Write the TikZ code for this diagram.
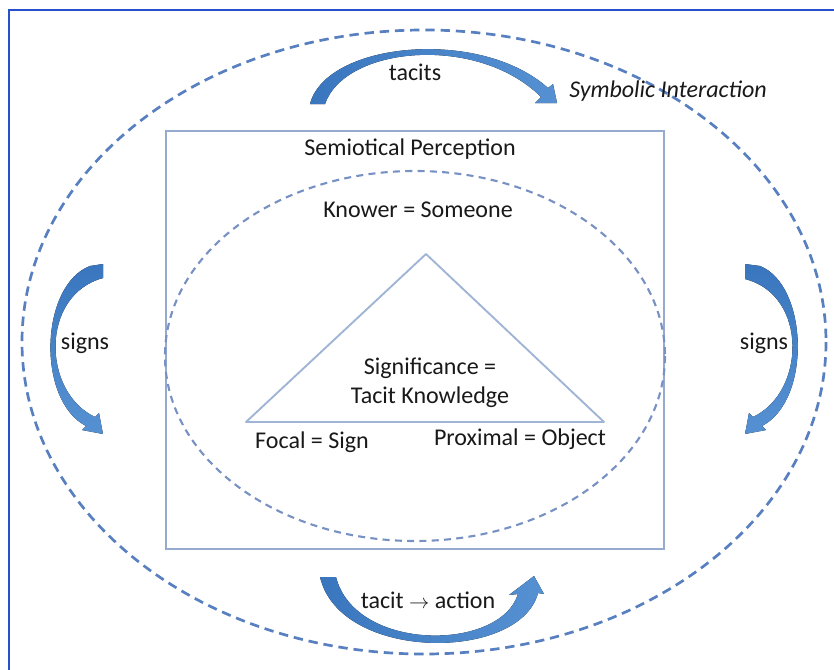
\documentclass[tikz,border=0pt]{standalone}
\usepackage{fontspec}
\setmainfont{Carlito}
\definecolor{framec}{RGB}{40,80,205}
\definecolor{outerd}{RGB}{88,128,192}
\definecolor{innerd}{RGB}{120,145,195}
\definecolor{boxc}{RGB}{150,170,208}
\definecolor{tric}{RGB}{160,180,214}
\definecolor{arrc}{RGB}{58,118,190}
\definecolor{arrl}{RGB}{85,145,210}
\begin{document}
\begin{tikzpicture}[x=0.03cm,y=-0.03cm,
  lbl/.style={font=\fontsize{20.5}{25}\selectfont, text=black!90, inner sep=0pt, align=center},
  bigarrow/.style={left color=arrc, right color=arrl, draw=none},
  vbigarrow/.style={top color=arrc, bottom color=arrl, draw=none}]
\useasboundingbox (0,0) rectangle (834,670);
\fill[white] (0,0) rectangle (834,670);
% frame
\draw[framec, line width=2pt] (9,670) -- (9,10) -- (834,10);
% outer dashed ellipse
\draw[outerd, line width=2.3pt, dash pattern=on 8pt off 5pt] (424,342) ellipse [x radius=402, y radius=312];
% rectangle
\draw[boxc, line width=1.7pt] (166,131) rectangle (664,549);
% inner dashed ellipse
\draw[innerd, line width=1.8pt, dash pattern=on 6pt off 4.5pt] (415,356) ellipse [x radius=250, y radius=185];
% triangle
\coordinate (apex) at (426,254);
\coordinate (bl) at (246,422);
\coordinate (br) at (604,422);
\draw[tric, line width=1.6pt, line join=round] (apex) -- (bl) -- (br) -- cycle;
% texts
\node[lbl] (tac) at (415,72) {tacits};
\node[lbl, font=\fontsize{20.5}{25}\selectfont\itshape] (sym) at (668,91) {Symbolic Interaction};
\node[lbl] (sem) at (410,149) {Semiotical Perception};
\node[lbl] (kno) at (418,210) {Knower = Someone};
\node[lbl] (sig) at (430,383) {Significance =\\Tacit Knowledge};
\node[lbl] (foc) at (312,442) {Focal = Sign};
\node[lbl] (pro) at (520,439) {Proximal = Object};
\node[lbl] (sgl) at (85,343) {signs};
\node[lbl] (sgr) at (764,343) {signs};
\node[lbl] (act) at (428,600) {tacit {\fontsize{18}{18}\selectfont$\rightarrow$} action};
% top arrow
\fill[bigarrow] (310,104) .. controls (326,42) and (480,27) .. (548,88) -- (553,84) -- (557,103) -- (535,103) -- (541,97) .. controls (478,34) and (345,46) .. (325,104) -- cycle;
% bottom arrow
\fill[bigarrow] (320,577) .. controls (340,662) and (520,662) .. (538,593) -- (544,594) -- (534,576) -- (509,595) -- (518,594) .. controls (500,652) and (355,652) .. (336,577) -- cycle;
% left arrow
\fill[vbigarrow] (103,264) -- (90,266) .. controls (40,285) and (36,400) .. (86,426) -- (82,430) -- (103,434) -- (99,413) -- (95,417) .. controls (42,392) and (40,295) .. (103,278) -- cycle;
% right arrow (mirror)
\begin{scope}[xshift=848*0.03cm, xscale=-1]
\fill[vbigarrow] (103,264) -- (88,266) .. controls (40,285) and (36,400) .. (86,426) -- (82,430) -- (103,434) -- (99,413) -- (95,417) .. controls (42,392) and (40,295) .. (103,279) -- cycle;
\end{scope}
\end{tikzpicture}
\end{document}
